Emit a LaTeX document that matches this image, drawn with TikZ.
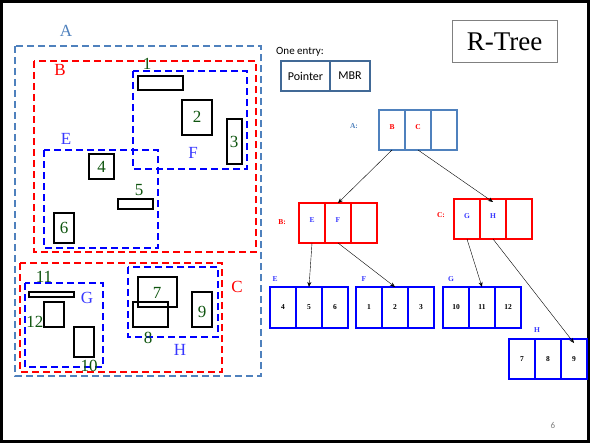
\documentclass[tikz,border=0pt]{standalone}
\usepackage{fontspec}
\setmainfont{Liberation Serif}
\newfontfamily\calibri{Carlito}
\usetikzlibrary{positioning,arrows.meta}

\definecolor{steel}{RGB}{79,129,189}
\definecolor{entryblue}{RGB}{65,105,150}
\definecolor{rtgreen}{RGB}{15,85,15}
\definecolor{lblue}{RGB}{55,55,255}

\begin{document}
\begin{tikzpicture}
  [x=1pt,y=-1pt,
   region/.style={line width=1.8pt,dash pattern=on 7pt off 4pt},
   obj/.style={draw=black,line width=1.8pt},
   rlabel/.style={font=\fontsize{17}{17}\selectfont,inner sep=0pt},
   olabel/.style={text=rtgreen,font=\fontsize{17}{17}\selectfont,inner sep=0pt},
   cell/.style={draw,minimum width=26pt,minimum height=40pt,inner sep=0pt,outer sep=0pt,
     line width=1.6pt,font=\bfseries\fontsize{7.5}{9}\selectfont},
   up/.style={text height=6pt,text depth=7pt},
   tlabel/.style={font=\bfseries\fontsize{7.5}{9}\selectfont,inner sep=0pt},
   ptr/.style={-{Stealth[length=5pt,width=4pt]},thin}]
  \useasboundingbox (0,0) rectangle (592,444);
  \draw[line width=3pt] (1.5,1.5) rectangle (588.5,441.5);

  % regions on the left
  \draw[region,steel] (15,46) rectangle (261,376);
  \draw[region,red] (34,61) rectangle (256,252);
  \draw[region,blue] (133,71) rectangle (247,169);
  \draw[region,blue] (44,150) rectangle (158,248);
  \draw[region,red] (20,263) rectangle (222,372);
  \draw[region,blue] (25,283) rectangle (103,367);
  \draw[region,blue] (128,267) rectangle (218,337);

  \node[rlabel,text=steel] (lA) at (66,31) {A};
  \node[rlabel,text=red] (lB) at (60,70) {B};
  \node[rlabel,text=red] (lC) at (237,287) {C};
  \node[rlabel,text=lblue] (lE) at (66,139) {E};
  \node[rlabel,text=lblue] (lF) at (193,153) {F};
  \node[rlabel,text=lblue] (lG) at (87,298) {G};
  \node[rlabel,text=lblue] (lH) at (180,350) {H};

  % objects
  \draw[obj] (138,76) rectangle (183,90);
  \draw[obj] (182,100) rectangle (212,135);
  \draw[obj] (227,119) rectangle (242,164);
  \draw[obj] (89,154) rectangle (114,179);
  \draw[obj] (118,199) rectangle (153,209);
  \draw[obj] (54,213) rectangle (74,243);
  \draw[obj] (138,277) rectangle (177,307);
  \draw[obj] (133,302) rectangle (168,327);
  \draw[obj] (192,292) rectangle (212,327);
  \draw[obj] (74,327) rectangle (94,357);
  \draw[obj] (29,292) rectangle (74,297);
  \draw[obj] (44,302) rectangle (64,327);

  \node[olabel] (o1) at (147,64) {1};
  \node[olabel] (o2) at (197,117) {2};
  \node[olabel] (o3) at (234,142) {3};
  \node[olabel] (o4) at (101.5,166.5) {4};
  \node[olabel] (o5) at (139,190) {5};
  \node[olabel] (o6) at (64,228) {6};
  \node[olabel] (o7) at (157,293) {7};
  \node[olabel] (o8) at (148,338) {8};
  \node[olabel] (o9) at (202,312) {9};
  \node[olabel] (o10) at (89,366) {10};
  \node[olabel] (o11) at (44,277) {11};
  \node[olabel] (o12) at (35,322) {12};

  % title and entry
  \node[draw=gray,line width=1pt,minimum width=105pt,minimum height=42pt,inner sep=0pt,
    font=\fontsize{27}{27}\selectfont] (title) at (504.5,42) {R-Tree};
  \node[anchor=west,inner sep=0pt,font=\calibri\fontsize{11}{11}\selectfont] (oneentry) at (276,52) {One entry:};
  \node[draw=entryblue,line width=1.4pt,minimum width=49pt,minimum height=30pt,inner sep=0pt,outer sep=0pt,
    font=\calibri\fontsize{12}{12}\selectfont] (pointer) at (305.5,76) {Pointer};
  \node[draw=entryblue,line width=1.4pt,minimum width=40pt,minimum height=30pt,inner sep=0pt,outer sep=0pt,
    font=\calibri\fontsize{12}{12}\selectfont,right=0pt of pointer] (mbr) {MBR};

  % tree
  \node[cell,draw=steel,text=red,up] (a1) at (392,130) {B};
  \node[cell,draw=steel,text=red,up,right=0pt of a1] (a2) {C};
  \node[cell,draw=steel,right=0pt of a2] (a3) {};
  \node[tlabel,text=steel] (la) at (354,126) {A:};

  \node[cell,draw=red,text=lblue,up] (b1) at (312,223) {E};
  \node[cell,draw=red,text=lblue,up,right=0pt of b1] (b2) {F};
  \node[cell,draw=red,right=0pt of b2] (b3) {};
  \node[tlabel,text=red] (lb) at (282,222) {B:};

  \node[cell,draw=red,text=lblue,up] (c1) at (467,219) {G};
  \node[cell,draw=red,text=lblue,up,right=0pt of c1] (c2) {H};
  \node[cell,draw=red,right=0pt of c2] (c3) {};
  \node[tlabel,text=red] (lc) at (441,215) {C:};

  \node[cell,draw=blue,minimum height=41pt] (e1) at (283,307.5) {4};
  \node[cell,draw=blue,minimum height=41pt,right=0pt of e1] (e2) {5};
  \node[cell,draw=blue,minimum height=41pt,right=0pt of e2] (e3) {6};
  \node[tlabel,text=lblue] (le) at (275,279) {E};

  \node[cell,draw=blue,minimum height=41pt] (f1) at (369,307.5) {1};
  \node[cell,draw=blue,minimum height=41pt,right=0pt of f1] (f2) {2};
  \node[cell,draw=blue,minimum height=41pt,right=0pt of f2] (f3) {3};
  \node[tlabel,text=lblue] (lf) at (364,279) {F};

  \node[cell,draw=blue,minimum height=41pt] (g1) at (456,307.5) {10};
  \node[cell,draw=blue,minimum height=41pt,right=0pt of g1] (g2) {11};
  \node[cell,draw=blue,minimum height=41pt,right=0pt of g2] (g3) {12};
  \node[tlabel,text=lblue] (lg) at (451,279) {G};

  \node[cell,draw=blue] (h1) at (522,359) {7};
  \node[cell,draw=blue,right=0pt of h1] (h2) {8};
  \node[cell,draw=blue,right=0pt of h2] (h3) {9};
  \node[tlabel,text=lblue] (lh) at (537,330) {H};

  \draw[ptr] (a1.south) -- (b2.north);
  \draw[ptr] (a2.south) -- ([yshift=-3pt]c2.north);
  \draw[ptr] (b1.south) -- (e2.north);
  \draw[ptr] (b2.south) -- (f2.north);
  \draw[ptr] (c1.south) -- (g2.north);
  \draw[ptr] (c2.south) -- ([yshift=-4pt]h3.north);

  \node[text=gray,font=\calibri\fontsize{9}{9}\selectfont] (page) at (553,425) {6};
\end{tikzpicture}
\end{document}
